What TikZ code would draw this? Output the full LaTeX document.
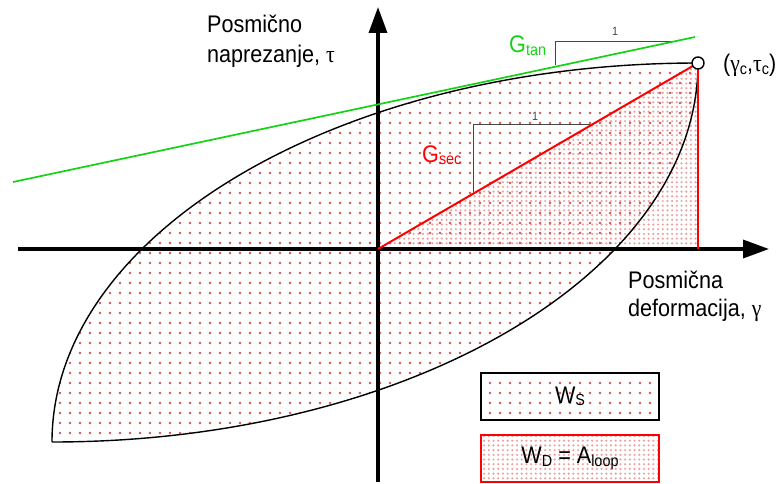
\documentclass[tikz,border=0pt]{standalone}
\usepackage{fontspec}
\setmainfont{Liberation Sans}[FakeStretch=0.9]
\newfontfamily\grk{Liberation Serif}[FakeStretch=0.9]
\usetikzlibrary{arrows.meta,patterns.meta}
\definecolor{dotred}{RGB}{205,85,85}
\definecolor{dotpink}{RGB}{238,160,160}
\definecolor{tangreen}{RGB}{20,210,20}
\definecolor{helpgray}{RGB}{70,70,70}
\newcommand{\lsub}[1]{\raisebox{-2.5pt}{\fontsize{16}{18}\selectfont #1}}
\newcommand{\bigtxt}{\fontsize{24}{29}\selectfont}
\begin{document}
\begin{tikzpicture}[x=1pt,y=1pt,
  axis/.style={line width=3.5pt, -{Triangle[length=26pt,width=18pt]}},
  loopline/.style={line width=1.4pt},
  sparse/.style={pattern={Dots[distance=10pt,radius=1.35pt]}, pattern color=dotred},
  dense/.style={pattern={Dots[distance=4.7pt,radius=1.2pt]}, pattern color=dotpink},
  redline/.style={red, line width=2pt},
  helper/.style={helpgray, line width=1pt},
  greenline/.style={tangreen, line width=1.7pt},
  lbl/.style={font=\bigtxt, inner sep=0pt, anchor=base west},
  unit/.style={font=\fontsize{12}{14}\selectfont, text=helpgray, inner sep=0pt},
  legendbox/.style={line width=1.3pt, minimum width=178pt, minimum height=47pt, inner sep=0pt, font=\bigtxt},
]
\useasboundingbox (0,0) rectangle (784,483);
\coordinate (O) at (378,234);
\coordinate (C) at (698,420);
\coordinate (D) at (698,234);
\coordinate (L) at (52,41);
\coordinate (xa) at (18,234);
\coordinate (xb) at (769,234);
\coordinate (ya) at (378,1);
\coordinate (yb) at (378,476);
\coordinate (g1) at (13,301);
\coordinate (g2) at (695,446);
\coordinate (t1) at (555,418);
\coordinate (t2) at (675,441.3);
\coordinate (s1) at (473,291);
\coordinate (s2) at (590,359);
% fills
\fill[dense] (O) -- (C) -- (D) -- cycle;
\fill[sparse] (L) arc[start angle=180,end angle=90,x radius=646pt,y radius=379pt]
  arc[start angle=0,end angle=-90,x radius=646pt,y radius=379pt] -- cycle;
% loop outline
\draw[loopline] (L) arc[start angle=180,end angle=90,x radius=646pt,y radius=379pt]
  arc[start angle=0,end angle=-90,x radius=646pt,y radius=379pt];
% helper triangles
\draw[helper] (t1) |- (t2);
\draw[helper] (s1) |- (s2);
% axes
\draw[axis] (xa) -- (xb);
\draw[axis] (ya) -- (yb);
% tangent and secant
\draw[greenline] (g1) -- (g2);
\draw[redline] (O) -- (C);
\draw[redline] (C) -- (D);
\node[circle, draw, fill=white, line width=1.4pt, minimum size=12pt, inner sep=0pt] (cc) at (C) {};
% labels
\node[lbl] (tau1) at (207,450) {Posmično};
\node[lbl] (tau2) at (207,420) {naprezanje, {\grk τ}};
\node[lbl] (gam1) at (628,195) {Posmična};
\node[lbl] (gam2) at (628,167) {deformacija, {\grk γ}};
\node[lbl, text=tangreen] (gtan) at (509,430) {G\lsub{tan}};
\node[lbl, text=red] (gsec) at (422,321) {G\lsub{sec}};
\node[unit] (one1) at (615,452) {1};
\node[unit] (one2) at (535,367) {1};
\node[lbl] (cpt) at (723,411) {({\grk γ}\lsub{c},{\grk τ}\lsub{c})};
% legend
\node[legendbox, draw=black, sparse] (ws) at (570,86.5) {W\lsub{S}};
\node[legendbox, draw=red, dense] (wd) at (570,24.5) {W\lsub{D} = A\lsub{loop}};
\end{tikzpicture}
\end{document}
